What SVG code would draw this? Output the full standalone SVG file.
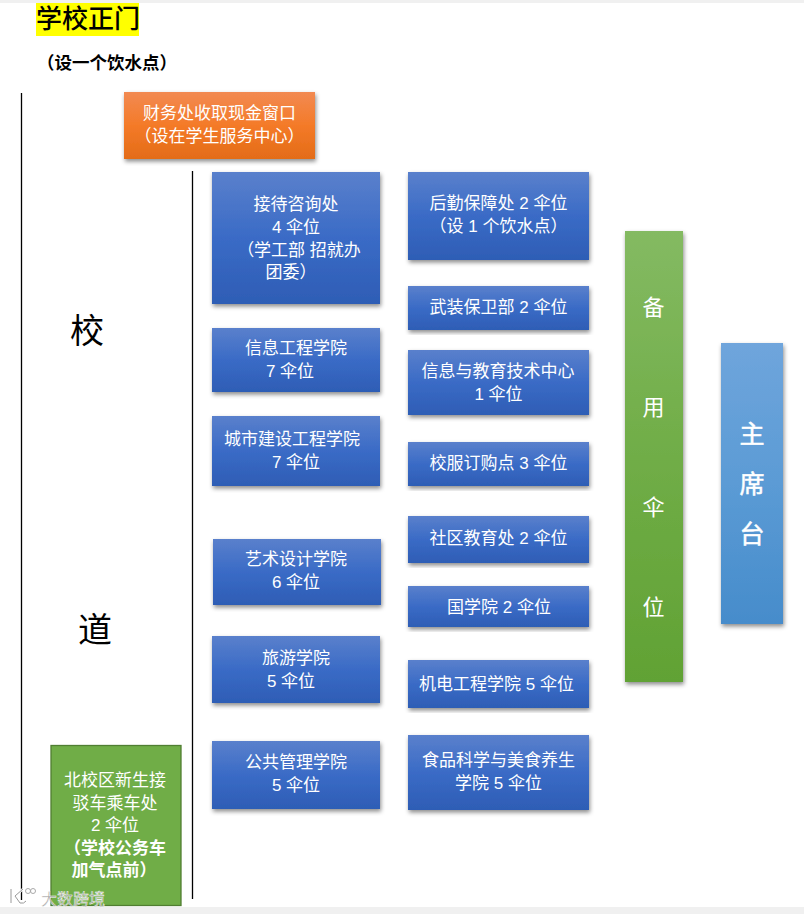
<svg xmlns="http://www.w3.org/2000/svg" width="804" height="914" viewBox="0 0 804 914">
<style>
text{font-family:"Liberation Sans","Noto Sans CJK SC",sans-serif;text-anchor:middle}
.w{fill:#fff;font-size:17px}
.blue{fill:url(#gb);filter:url(#sh)}
.big{fill:#000;font-size:34px}
.ln{stroke:#000;stroke-width:1.3;fill:none}
</style>
<defs>
<linearGradient id="gb" x1="0" y1="0" x2="0" y2="1"><stop offset="0" stop-color="#5a80cc"/><stop offset="0.5" stop-color="#3a6bc6"/><stop offset="1" stop-color="#2e5db5"/></linearGradient>
<linearGradient id="go" x1="0" y1="0" x2="0" y2="1"><stop offset="0" stop-color="#f28a52"/><stop offset="0.5" stop-color="#f47a28"/><stop offset="1" stop-color="#e36c18"/></linearGradient>
<linearGradient id="gg" x1="0" y1="0" x2="0" y2="1"><stop offset="0" stop-color="#84ba62"/><stop offset="0.5" stop-color="#70ad47"/><stop offset="1" stop-color="#61a234"/></linearGradient>
<linearGradient id="gl" x1="0" y1="0" x2="0" y2="1"><stop offset="0" stop-color="#6fa5dc"/><stop offset="0.5" stop-color="#5b9bd5"/><stop offset="1" stop-color="#468ccb"/></linearGradient>
<filter id="sh" x="-10%" y="-10%" width="120%" height="120%"><feDropShadow dx="1" dy="2.5" stdDeviation="2.2" flood-color="#000" flood-opacity="0.45"/></filter>
</defs>
<rect width="804" height="914" fill="#fff"/>
<rect width="804" height="3" fill="#f0f0f0"/>
<rect y="907" width="804" height="7" fill="#f0f0f0"/>
<g id="connectors">
<line class="ln" x1="21.5" y1="93" x2="21.5" y2="900"/>
<line class="ln" x1="192.500" y1="171" x2="192.500" y2="899"/>
</g>
<g id="title"><rect x="36" y="3" width="103" height="33" fill="#ffff00"/><text x="88" y="28" font-size="26" font-weight="500" fill="#000">学校正门</text></g>
<g id="water"><text x="107" y="69" font-size="17.500" font-weight="700" fill="#000">（设一个饮水点）</text></g>
<g id="label-xiao"><text class="big" x="87" y="343">校</text></g>
<g id="label-dao"><text class="big" x="95" y="642">道</text></g>
<g id="finance"><rect x="124" y="92" width="191" height="67" fill="url(#go)" filter="url(#sh)"/><text class="w" x="219.500" y="119">财务处收取现金窗口</text><text class="w" x="219.500" y="142">（设在学生服务中心）</text></g>
<g id="n1"><rect class="blue" x="212" y="172" width="168" height="132"/><text class="w" x="296" y="210">接待咨询处</text><text class="w" x="296" y="233">4 伞位</text><text class="w" x="299" y="256">（学工部 招就办</text><text class="w" x="291" y="278">团委）</text></g>
<g id="n2"><rect class="blue" x="212" y="328" width="168" height="64"/><text class="w" x="296" y="354">信息工程学院</text><text class="w" x="290" y="377">7 伞位</text></g>
<g id="n3"><rect class="blue" x="212" y="416" width="168" height="70"/><text class="w" x="292" y="445">城市建设工程学院</text><text class="w" x="296" y="468">7 伞位</text></g>
<g id="n4"><rect class="blue" x="213" y="539" width="168" height="66"/><text class="w" x="296" y="565">艺术设计学院</text><text class="w" x="296" y="588">6 伞位</text></g>
<g id="n5"><rect class="blue" x="212" y="636" width="168" height="67"/><text class="w" x="296" y="664">旅游学院</text><text class="w" x="291" y="687">5 伞位</text></g>
<g id="n6"><rect class="blue" x="212" y="741" width="168" height="68"/><text class="w" x="296" y="768">公共管理学院</text><text class="w" x="296" y="791">5 伞位</text></g>
<g id="m1"><rect class="blue" x="408" y="172" width="181" height="88"/><text class="w" x="498.500" y="209">后勤保障处 2 伞位</text><text class="w" x="498.500" y="232">（设 1 个饮水点）</text></g>
<g id="m2"><rect class="blue" x="408" y="286" width="181" height="44"/><text class="w" x="498.500" y="313">武装保卫部 2 伞位</text></g>
<g id="m3"><rect class="blue" x="408" y="350" width="181" height="65"/><text class="w" x="498" y="377">信息与教育技术中心</text><text class="w" x="498.500" y="400">1 伞位</text></g>
<g id="m4"><rect class="blue" x="408" y="442" width="181" height="44"/><text class="w" x="498.500" y="469">校服订购点 3 伞位</text></g>
<g id="m5"><rect class="blue" x="408" y="516" width="181" height="47"/><text class="w" x="498.500" y="544">社区教育处 2 伞位</text></g>
<g id="m6"><rect class="blue" x="408" y="586" width="181" height="41"/><text class="w" x="499" y="613">国学院 2 伞位</text></g>
<g id="m7"><rect class="blue" x="408" y="660" width="181" height="48"/><text class="w" x="496.500" y="690">机电工程学院 5 伞位</text></g>
<g id="m8"><rect class="blue" x="408" y="735" width="181" height="75"/><text class="w" x="498.500" y="766">食品科学与美食养生</text><text class="w" x="498.500" y="789">学院 5 伞位</text></g>
<g id="spare"><rect x="625" y="231" width="58" height="451" fill="url(#gg)" filter="url(#sh)"/><text x="653.500" y="315" font-size="22" fill="#fff">备</text><text x="653.500" y="415" font-size="22" fill="#fff">用</text><text x="653.500" y="515" font-size="22" fill="#fff">伞</text><text x="653.500" y="615" font-size="22" fill="#fff">位</text></g>
<g id="stage"><rect x="721" y="343" width="62" height="281" fill="url(#gl)" filter="url(#sh)"/><text x="752" y="443" font-size="25" stroke="#fff" stroke-width="0.500" fill="#fff">主</text><text x="752" y="493" font-size="25" stroke="#fff" stroke-width="0.500" fill="#fff">席</text><text x="752" y="543" font-size="25" stroke="#fff" stroke-width="0.500" fill="#fff">台</text></g>
<g id="north"><rect x="51" y="745.500" width="130" height="160" fill="#70ad47" stroke="#507e32" stroke-width="1.300"/><text class="w" x="115" y="786">北校区新生接</text><text class="w" x="115" y="809">驳车乘车处</text><text class="w" x="115" y="831">2 伞位</text><text class="w" x="115" y="854" font-weight="700">（学校公务车</text><text class="w" x="114" y="876" font-weight="700">加气点前）</text></g>
<g id="watermark"><path d="M11 889v14M23 889l-8 7 5 7q4 1 6-2" fill="none" stroke="#fff" stroke-width="2.500" opacity="0.9"/><path d="M11 889v14M23 889l-8 7 5 7q4 1 6-2" fill="none" stroke="#9a9a9a" stroke-width="1"/><circle cx="28" cy="891" r="2.500" fill="none" stroke="#aaa"/><circle cx="33" cy="891" r="2.500" fill="none" stroke="#aaa"/><text x="73" y="905" font-size="16" fill="#9a9a9a" stroke="#fff" stroke-width="0.400" fill-opacity="0.9">大数跨境</text></g>
</svg>
